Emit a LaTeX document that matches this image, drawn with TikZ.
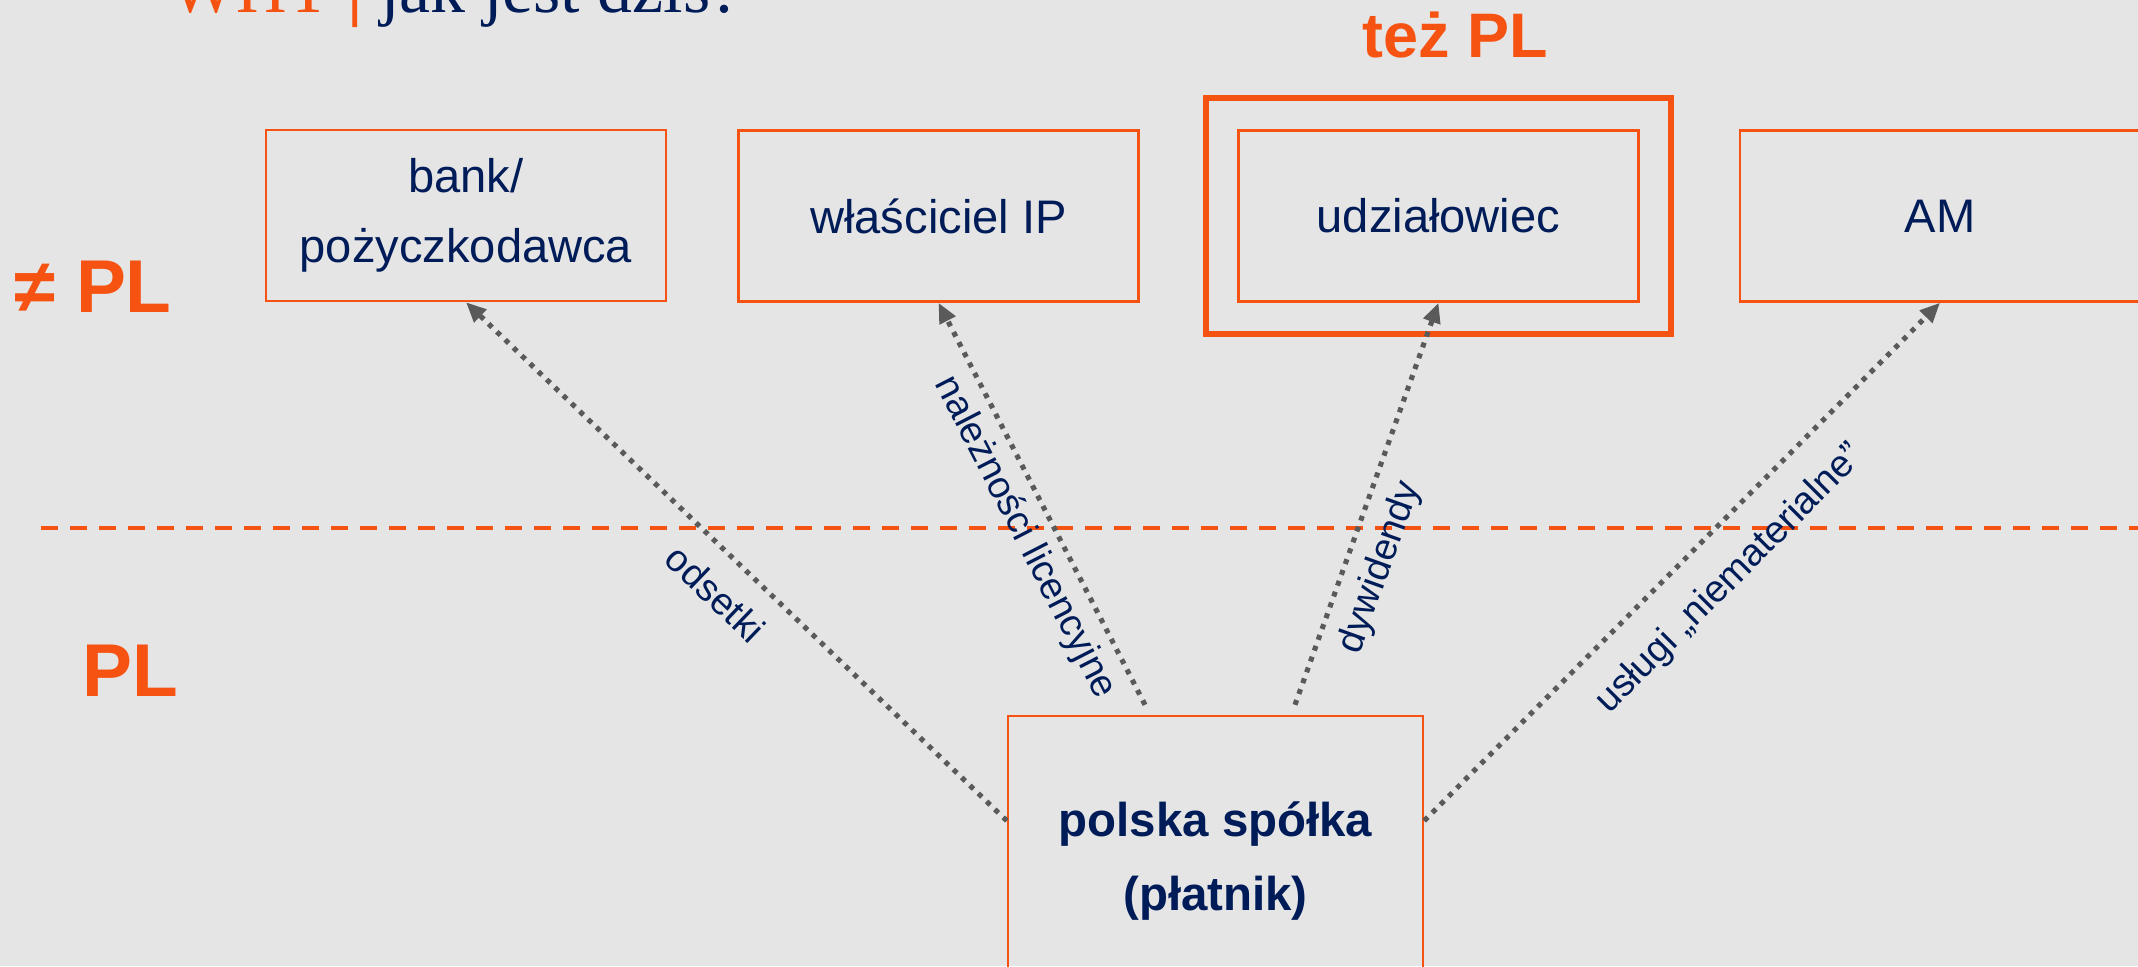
\documentclass[tikz,border=0pt]{standalone}
\usepackage{fontspec}
\setmainfont{Liberation Sans}
\newfontfamily\titlefont{Liberation Serif}
\usetikzlibrary{arrows.meta,fit}
\definecolor{plorange}{RGB}{246,82,17}
\definecolor{plnavy}{RGB}{0,28,88}
\definecolor{plgray}{RGB}{90,90,90}
\definecolor{plbg}{RGB}{229,229,229}

\begin{document}
\begin{tikzpicture}[
  party/.style={draw=plorange, line width=0.7pt, minimum width=4cm, minimum height=1.71cm,
    align=center, text=plnavy, font=\fontsize{13.4}{19.9}\selectfont},
  payer/.style={party, minimum width=4.15cm, minimum height=2.9cm,
    font=\bfseries\fontsize{13.5}{20.8}\selectfont},
  frame/.style={draw=plorange, line width=1.6pt, inner sep=0.31cm},
  border/.style={draw=plorange, line width=1.4pt, dash pattern=on 0.17cm off 0.12cm},
  flow/.style={draw=plgray, line width=1.45pt, dash pattern=on 0.05cm off 0.065cm,
    -{Triangle[length=0.2cm,width=0.17cm]}},
  flowlabel/.style={sloped, below, text=plnavy, font=\fontsize{10.8}{12}\selectfont},
  zone/.style={text=plorange, font=\bfseries\fontsize{21.3}{24}\selectfont, anchor=base, inner sep=0pt},
]
\fill[plbg] (0,0) rectangle (21.38,9.66);
\useasboundingbox (0,0) rectangle (21.38,9.66);
\clip (0,0) rectangle (21.38,9.66);

% title, cut at the top
\node[anchor=base west, inner sep=0pt, font=\titlefont\fontsize{19.9}{24}\selectfont] (title) at (1.70,9.54)
  {\textcolor{plorange}{WHT \textbf{|}} \textcolor{plnavy}{jak jest dziś?}};

% zones
\node[zone] (abroad) at (0.93,6.54) {≠ PL};
\node[zone] (home) at (1.30,2.70) {PL};
\node[zone, font=\bfseries\fontsize{17.9}{20}\selectfont] (alsohome) at (14.55,9.09) {też PL};

\coordinate (borderL) at (0.41,4.38);
\coordinate (borderR) at (21.60,4.38);
\draw[border] (borderL) -- (borderR);

% recipients
\node[party] (bank) at (4.66,7.505) {bank/\\pożyczkodawca};
\node[party] (owner) at (9.385,7.50) {właściciel IP};
\node[party] (udz) at (14.385,7.50) {udziałowiec};
\node[frame, fit=(udz)] (udzframe) {};
\node[party] (am) at (19.40,7.50) {AM};

% payer
\node[payer] (payer) at (12.155,1.05) {polska spółka\\(płatnik)};
\coordinate (pw) at ([yshift=-1.06cm]payer.north west);
\coordinate (pe) at ([yshift=-1.06cm]payer.north east);
\coordinate (pn1) at ([xshift=-0.705cm,yshift=0.10cm]payer.north);
\coordinate (pn2) at ([xshift=0.795cm,yshift=0.10cm]payer.north);

\draw[flow] (pw) -- node[flowlabel, pos=0.49, inner sep=6pt] (lint) {odsetki} (bank.south);
\draw[flow] (pn1) -- node[flowlabel, pos=0.45, inner sep=2.8pt] (llic) {należności licencyjne} (owner.south);
\draw[flow] (pn2) -- node[flowlabel, pos=0.37, inner sep=4pt] (ldiv) {dywidendy} (udz.south);
\draw[flow] (pe) -- node[flowlabel, pos=0.53, inner sep=7.5pt] (lserv) {usługi „niematerialne”} (am.south);
\end{tikzpicture}
\end{document}
